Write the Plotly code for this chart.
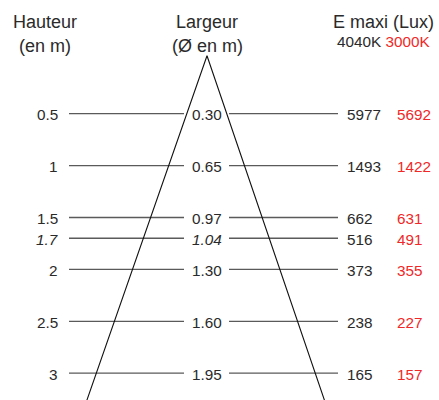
import plotly.graph_objects as go

# ---- data ----
heights = [0.5, 1, 1.5, 1.7, 2, 2.5, 3]
height_labels = ["0.5", "1", "1.5", "1.7", "2", "2.5", "3"]
widths = ["0.30", "0.65", "0.97", "1.04", "1.30", "1.60", "1.95"]
lux_4040 = [5977, 1493, 662, 516, 373, 238, 165]
lux_3000 = [5692, 1422, 631, 491, 355, 227, 157]
italic_rows = [1.7]

# ---- styling / layout ----
FONT = "Liberation Sans, Arial, Helvetica, sans-serif"
TXT = "#2a2a2a"
RED = "#f02828"
LINE = "#5a5a5a"
NUM = 15.3
HDR = 18

X_LEFT_LABEL = 60
X_L0, X_L1 = 69, 184
X_MID = 207
X_R0, X_R1 = 229, 338
X_LUX1 = 345
X_LUX2 = 395

APEX_H = -0.058
SLOPE_L = 36.2
SLOPE_R = 35.4
H_END = 3.6

fig = go.Figure()

# horizontal lines
for h in heights:
    for x0, x1 in ((X_L0, X_L1), (X_R0, X_R1)):
        fig.add_trace(go.Scatter(x=[x0, x1], y=[h, h], mode="lines",
                                 line=dict(color=LINE, width=1.3),
                                 hoverinfo="skip", showlegend=False))

# cone
fig.add_trace(go.Scatter(
    x=[X_MID - SLOPE_L * (H_END - APEX_H), X_MID, X_MID + SLOPE_R * (H_END - APEX_H)],
    y=[H_END, APEX_H, H_END], mode="lines",
    line=dict(color="#111111", width=1.1), hoverinfo="skip", showlegend=False))

ann = []
for h, hl, w, a, b in zip(heights, height_labels, widths, lux_4040, lux_3000):
    it = h in italic_rows
    hl_t = f"<i>{hl}</i>" if it else hl
    w_t = f"<i>{w}</i>" if it else w
    ann.append(dict(x=X_LEFT_LABEL, y=h, text=hl_t, xanchor="right",
                    font=dict(size=NUM, color=TXT)))
    ann.append(dict(x=X_MID, y=h, text=w_t, xanchor="center",
                    font=dict(size=NUM, color=TXT)))
    ann.append(dict(x=X_LUX1, y=h, text=str(a), xanchor="left",
                    font=dict(size=NUM, color=TXT)))
    ann.append(dict(x=X_LUX2, y=h, text=str(b), xanchor="left",
                    font=dict(size=NUM, color=RED)))

for a in ann:
    a.update(xref="x", yref="y", yanchor="middle", showarrow=False, yshift=-1,
             xshift=0)

# headers (paper-pixel positions)
def hdr(x, y, text, anchor="center", size=HDR):
    return dict(xref="x", yref="paper", x=x, y=y, text=text, xanchor=anchor,
                yanchor="middle", showarrow=False, font=dict(size=size, color=TXT))

ann += [
    hdr(45, 1 - 22 / 400, "Hauteur"),
    hdr(45, 1 - 46 / 400, "(en m)"),
    hdr(X_MID, 1 - 22 / 400, "Largeur"),
    hdr(X_MID, 1 - 46 / 400, "(Ø en m)"),
    hdr(436, 1 - 22 / 400, "E maxi (Lux)", anchor="right"),
    hdr(433, 1 - 42 / 400, f"4040K <span style='color:{RED}'>3000K</span>",
        anchor="right", size=NUM),
]

fig.update_layout(
    width=439, height=400, autosize=False,
    margin=dict(l=0, r=0, t=0, b=0),
    paper_bgcolor="white", plot_bgcolor="white",
    font=dict(family=FONT, color=TXT),
    xaxis=dict(range=[0, 439], visible=False, fixedrange=True),
    yaxis=dict(range=[3.258, -0.595], visible=False, fixedrange=True),
    annotations=ann,
    showlegend=False,
)

fig.write_html("out.html", config={"displayModeBar": False, "staticPlot": True},
               post_script="document.body.style.margin='0';")
